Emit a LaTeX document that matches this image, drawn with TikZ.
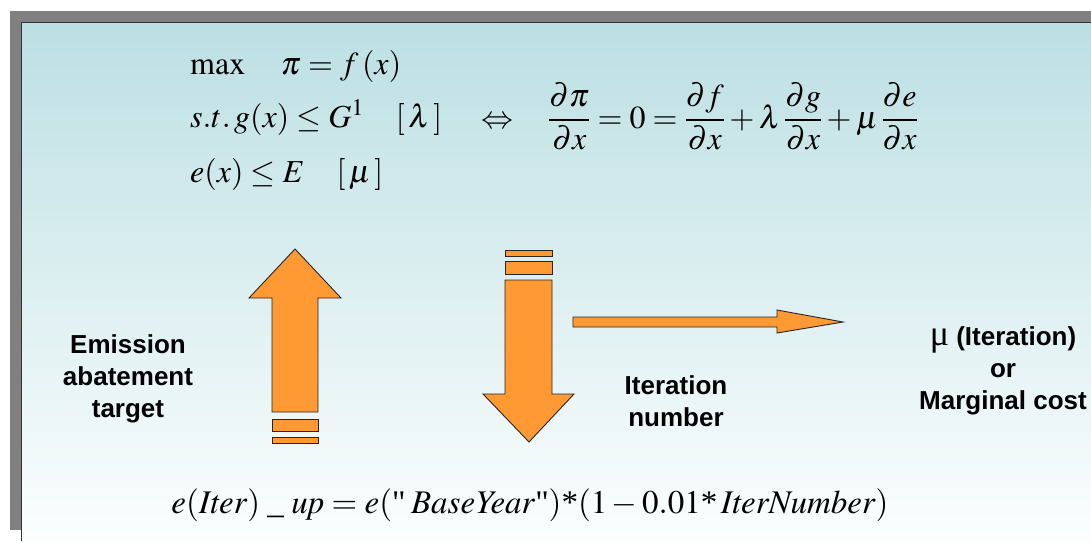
\documentclass[tikz,border=0pt]{standalone}
\usepackage{amsmath}
\usepackage{mathptmx}
\usepackage{fontspec}
\setmainfont{Liberation Serif}
\setsansfont{Liberation Sans}
\definecolor{arroworange}{RGB}{255,153,51}
\definecolor{paneltop}{RGB}{188,223,227}
\definecolor{panelbottom}{RGB}{252,254,254}
\definecolor{framegray}{RGB}{128,128,128}

\begin{document}
\begin{tikzpicture}[x=1pt, y=-1pt,
    lbl/.style={font=\sffamily\bfseries\fontsize{26}{32}\selectfont, align=center, inner sep=0pt},
    eqn/.style={font=\fontsize{32}{38}\selectfont, inner sep=0pt},
    blockarrow/.style={draw=black!85, fill=arroworange, line width=0.9pt}]
\useasboundingbox (0,0) rectangle (1091,541);
% frame and panel
\fill[framegray] (10,11) rectangle (1091,530);
\shade[top color=paneltop, bottom color=panelbottom] (21,22) rectangle (1091,541);
\draw[black!80, line width=1pt] (21,541) -- (21,22) -- (1091,22);
% model
\node[eqn, anchor=base west] (obj) at (190,74) {$\max\quad \pi = f\,(x)$};
\node[eqn, anchor=base west] (cons) at (190,127) {$s.t.\,g(x)\le G^{1}\quad[\,\lambda\,]$};
\node[eqn, anchor=base west] (emis) at (190,182) {$e(x)\le E\quad[\,\mu\,]$};
\node[eqn, anchor=base] (equiv) at (497,128) {$\Leftrightarrow$};
\node[eqn, anchor=base west] (foc) at (548,128)
    {$\dfrac{\partial\pi}{\partial x}=0=\dfrac{\partial f}{\partial x}+\lambda\,\dfrac{\partial g}{\partial x}+\mu\,\dfrac{\partial e}{\partial x}$};
% arrows
\draw[blockarrow] (272,412) -- (272,298) -- (249,298) -- (295,249) -- (341,298) -- (318,298) -- (318,412) -- cycle;
\draw[blockarrow] (272,419) rectangle (318,431);
\draw[blockarrow] (272,437) rectangle (318,443);
\draw[blockarrow] (505,250) rectangle (552,256);
\draw[blockarrow] (505,261) rectangle (552,274);
\draw[blockarrow] (505,280) -- (552,280) -- (552,394) -- (574,394) -- (529,442) -- (483,394) -- (505,394) -- cycle;
\draw[blockarrow] (573,317) -- (777,317) -- (777,310) -- (843,322) -- (777,333) -- (777,327) -- (573,327) -- cycle;
% labels
\node[lbl] (target) at (128,379) {Emission\\abatement\\target};
\node[lbl] (iter) at (676,401) {Iteration\\number};
\node[lbl] (mucost) at (1003,371) {{\rmfamily\mdseries\fontsize{36}{32}\selectfont μ} (Iteration)\\or\\Marginal cost};
% update rule
\node[eqn, font=\fontsize{33}{38}\selectfont, anchor=base] (update) at (530,513)
    {$e(\mathit{Iter})\;\_\;\mathit{up}=e(\text{\textquotedbl\,}\mathit{BaseYear}\text{\textquotedbl})\text{*}(1-0.01\text{*}\,\mathit{IterNumber})$};
\end{tikzpicture}
\end{document}
